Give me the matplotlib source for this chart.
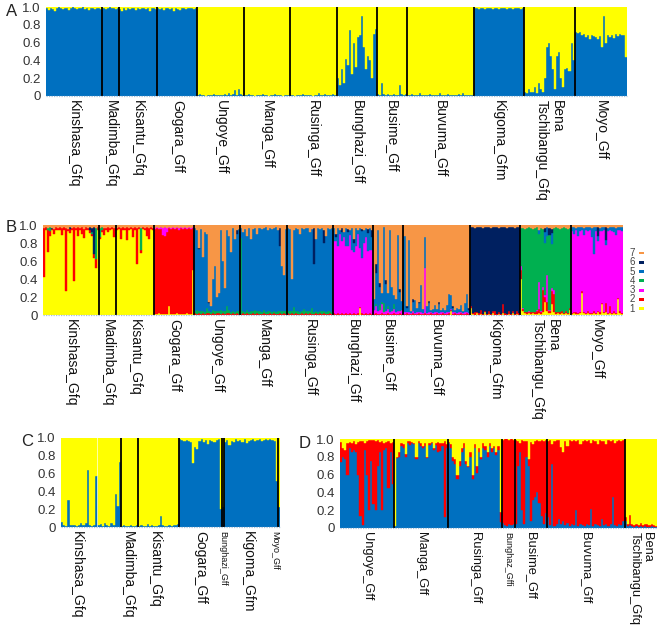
import numpy as np
import matplotlib
matplotlib.use("Agg")
import matplotlib.pyplot as plt
from matplotlib.patches import Rectangle
from matplotlib import transforms

plt.rcParams['font.family'] = ['Liberation Sans', 'DejaVu Sans']

# ----------- COLOURS ------------
BLUE = "#0070C0"
YELLOW = "#FFFF00"
RED = "#FF0000"
K7_COLORS = ["#FFFF00", "#FF0000", "#FF00FF", "#00B050", "#0070C0", "#002060", "#F79646"]

# ----------- DATA: panel A (K=2, blue share per individual) ------------
pops_AB = ["Kinshasa_Gfq", "Madimba_Gfq", "Kisantu_Gfq", "Gogara_Gff", "Ungoye_Gff",
           "Manga_Gff", "Rusinga_Gff", "Bunghazi_Gff", "Busime_Gff", "Buvuma_Gff",
           "Kigoma_Gfm", "Bena\nTschibangu_Gfq", "Moyo_Gff"]

A_kinshasa = [0.99, 0.97, 0.99, 0.98, 0.96, 0.99, 1.0, 0.99, 0.98, 0.99,
              0.99, 0.97, 0.99, 1.0, 0.99, 0.98, 0.99, 0.99, 1.0, 0.98,
              0.99, 0.97, 0.99, 0.99, 0.98, 0.99, 0.99, 0.98]
A_madimba = [0.99, 0.98, 0.99, 1.0, 0.99, 0.99, 0.98, 0.99]
A_kisantu = [0.98, 0.96, 0.99, 0.97, 0.99, 0.98, 0.99, 0.99, 0.97, 0.99,
             0.98, 0.99, 0.99, 0.98, 0.99, 0.95, 0.99, 0.99, 0.98]
A_gogara = [0.99, 0.98, 0.99, 0.97, 0.99, 0.99, 0.98, 0.99, 0.96, 0.99,
            0.98, 0.97, 0.99, 0.99, 0.98, 0.99, 0.99, 0.99, 0.98, 0.99]
A_ungoye = [0.01, 0.02, 0.01, 0.01, 0.0, 0.01, 0.01, 0.01, 0.02, 0.01,
            0.01, 0.01, 0.01, 0.02, 0.01, 0.03, 0.01, 0.02, 0.07, 0.01,
            0.08, 0.02, 0.01]
A_manga = [0.01, 0.01, 0.02, 0.01, 0.01, 0.0, 0.01, 0.01, 0.01, 0.02,
           0.01, 0.01, 0.0, 0.01, 0.01, 0.02, 0.01, 0.01, 0.01, 0.0,
           0.01, 0.01, 0.01]
A_rusinga = [0.01, 0.01, 0.0, 0.01, 0.01, 0.01, 0.02, 0.01, 0.01, 0.01,
             0.01, 0.0, 0.01, 0.01, 0.03, 0.01, 0.01, 0.02, 0.01, 0.01,
             0.01, 0.02, 0.01]
A_bunghazi = [0.2, 0.12, 0.3, 0.15, 0.42, 0.35, 0.74, 0.25, 0.6, 0.33,
              0.66, 0.69, 0.9, 0.55, 0.3, 0.45, 0.4, 0.2, 0.7, 0.75]
A_busime = [0.02, 0.01, 0.15, 0.02, 0.01, 0.02, 0.01, 0.01, 0.02, 0.01,
            0.01, 0.12, 0.02, 0.01, 0.02]
A_buvuma = [0.01, 0.01, 0.02, 0.01, 0.01, 0.01, 0.03, 0.01, 0.01, 0.01,
            0.01, 0.02, 0.01, 0.01, 0.01, 0.01, 0.03, 0.01, 0.01, 0.01,
            0.02, 0.01, 0.01, 0.01, 0.01, 0.02, 0.01, 0.03, 0.01, 0.01,
            0.01, 0.01, 0.01]
A_kigoma = [0.99, 0.99, 0.98, 0.99, 0.99, 0.98, 0.99, 0.99, 0.99, 0.98,
            0.99, 0.99, 0.98, 0.99, 0.99, 0.99, 0.98, 0.99, 0.99, 0.98,
            0.99, 0.99, 0.99, 0.98, 0.99]
A_bena = [0.05, 0.03, 0.08, 0.04, 0.05, 0.1, 0.03, 0.15, 0.08, 0.05,
          0.2, 0.55, 0.6, 0.45, 0.3, 0.08, 0.45, 0.5, 0.2, 0.1,
          0.3, 0.32, 0.28, 0.6, 0.4]
A_moyo = [0.72, 0.71, 0.72, 0.68, 0.7, 0.66, 0.69, 0.64, 0.68, 0.67,
          0.66, 0.64, 0.67, 0.55, 0.9, 0.6, 0.68, 0.66, 0.69, 0.65,
          0.7, 0.67, 0.7, 0.68, 0.69, 0.44]

A_blue = [A_kinshasa, A_madimba, A_kisantu, A_gogara, A_ungoye, A_manga, A_rusinga,
          A_bunghazi, A_busime, A_buvuma, A_kigoma, A_bena, A_moyo]

# ----------- DATA: panel B (K=7), main cluster + minor shares ------------
B_main = [1, 1, 1, 2, 5, 5, 5, 3, 7, 7, 6, 4, 3]

B_kinshasa = {
    2: [0.55, 0.03, 0.25, 0.05, 0.02, 0.06, 0.03, 0.02, 0.04, 0.08,
        0.03, 0.7, 0.03, 0.05, 0.02, 0.6, 0.03, 0.1, 0.02, 0.08,
        0.1, 0.03, 0.02, 0.04, 0.02, 0.05, 0.1, 0.03],
    4: [0, 0, 0.02, 0.05, 0, 0, 0, 0, 0, 0,
        0, 0, 0, 0, 0, 0, 0, 0, 0, 0,
        0, 0, 0, 0, 0.02, 0, 0.35, 0],
    6: [0, 0, 0, 0, 0.01, 0, 0, 0, 0, 0,
        0, 0, 0, 0.02, 0, 0, 0, 0, 0, 0,
        0, 0, 0, 0.03, 0.05, 0.3, 0, 0],
    7: [0.03, 0.02, 0.03, 0.02, 0.03, 0.04, 0.02, 0.03, 0.02, 0.03,
        0.02, 0.03, 0.04, 0.02, 0.03, 0.02, 0.03, 0.02, 0.03, 0.02,
        0.04, 0.02, 0.03, 0.02, 0.03, 0.02, 0.03, 0.02],
}
B_madimba = {
    2: [0.02, 0.03, 0.08, 0.02, 0.06, 0.03, 0.02, 0.1],
    4: [0.1, 0.03, 0, 0, 0, 0, 0, 0],
    7: [0.03, 0.02, 0.03, 0.03, 0.02, 0.03, 0.02, 0.03],
}
B_kisantu = {
    2: [0.03, 0.02, 0.12, 0.03, 0.02, 0.15, 0.03, 0.02, 0.1, 0.03,
        0.4, 0.02, 0.03, 0.02, 0.03, 0.1, 0.12, 0.02, 0.03],
    4: [0, 0, 0, 0, 0, 0, 0, 0, 0, 0,
        0, 0, 0.25, 0, 0, 0, 0, 0, 0],
    7: [0.03, 0.02, 0.03, 0.02, 0.03, 0.02, 0.03, 0.02, 0.03, 0.02,
        0.03, 0.02, 0.03, 0.02, 0.03, 0.02, 0.03, 0.02, 0.03],
}
B_gogara = {
    1: [0.01, 0.01, 0.02, 0.01, 0.01, 0.01, 0.01, 0.1, 0.01, 0.01,
        0.01, 0.02, 0.01, 0.01, 0.01, 0.01, 0.02, 0.01, 0.01, 0.5],
    3: [0.01, 0.01, 0.01, 0.02, 0.08, 0.1, 0.05, 0.01, 0.01, 0.01,
        0.01, 0.01, 0.02, 0.01, 0.01, 0.01, 0.01, 0.01, 0.01, 0.01],
    7: [0.03, 0.02, 0.03, 0.02, 0.03, 0.02, 0.03, 0.02, 0.03, 0.02,
        0.03, 0.02, 0.03, 0.02, 0.03, 0.02, 0.03, 0.02, 0.03, 0.02],
}
B_ungoye = {
    2: [0.02, 0.01, 0.02, 0.01, 0.02, 0.01, 0.02, 0.02, 0.01, 0.02,
        0.01, 0.02, 0.02, 0.01, 0.02, 0.01, 0.02, 0.02, 0.01, 0.02,
        0.01, 0.02, 0.01],
    4: [0.03, 0.05, 0.02, 0.04, 0.03, 0.02, 0.06, 0.03, 0.02, 0.04,
        0.03, 0.02, 0.03, 0.05, 0.02, 0.03, 0.08, 0.04, 0.02, 0.03,
        0.02, 0.03, 0.04],
    6: [0, 0, 0.02, 0, 0, 0, 0, 0.02, 0, 0,
        0, 0, 0, 0, 0, 0, 0, 0, 0, 0,
        0, 0.05, 0],
    7: [0.03, 0.05, 0.25, 0.04, 0.35, 0.08, 0.1, 0.85, 0.9, 0.6,
        0.45, 0.8, 0.75, 0.05, 0.4, 0.7, 0.05, 0.12, 0.3, 0.03,
        0.15, 0.05, 0.04],
}
B_manga = {
    2: [0.01, 0.02, 0.01, 0.02, 0.01, 0.01, 0.02, 0.01, 0.02, 0.01,
        0.01, 0.02, 0.01, 0.01, 0.02, 0.01, 0.02, 0.01, 0.01, 0.02,
        0.01, 0.02, 0.01],
    4: [0.85, 0.03, 0.02, 0.04, 0.02, 0.03, 0.02, 0.05, 0.02, 0.03,
        0.02, 0.04, 0.02, 0.03, 0.02, 0.02, 0.03, 0.02, 0.04, 0.02,
        0.03, 0.02, 0.03],
    6: [0, 0, 0, 0, 0, 0, 0, 0, 0, 0,
        0, 0, 0, 0, 0, 0, 0, 0, 0, 0.2,
        0, 0, 0],
    7: [0.03, 0.08, 0.04, 0.12, 0.03, 0.15, 0.04, 0.03, 0.1, 0.03,
        0.04, 0.03, 0.02, 0.05, 0.03, 0.04, 0.03, 0.02, 0.05, 0.03,
        0.45, 0.55, 0.04],
}
B_rusinga = {
    2: [0.02, 0.01, 0.02, 0.01, 0.02, 0.01, 0.01, 0.02, 0.01, 0.02,
        0.01, 0.02, 0.01, 0.01, 0.02, 0.01, 0.02, 0.01, 0.02, 0.01,
        0.01, 0.02, 0.01],
    4: [0.02, 0.03, 0.02, 0.08, 0.02, 0.03, 0.02, 0.02, 0.06, 0.02,
        0.03, 0.02, 0.07, 0.02, 0.03, 0.02, 0.02, 0.03, 0.02, 0.02,
        0.03, 0.02, 0.02],
    6: [0, 0, 0, 0, 0, 0, 0, 0, 0, 0,
        0, 0, 0, 0.4, 0, 0, 0, 0, 0.15, 0,
        0, 0, 0],
    7: [0.03, 0.04, 0.6, 0.05, 0.03, 0.04, 0.1, 0.03, 0.04, 0.03,
        0.03, 0.08, 0.04, 0.03, 0.15, 0.03, 0.04, 0.03, 0.05, 0.12,
        0.03, 0.04, 0.03],
}
B_bunghazi = {
    1: [0, 0, 0, 0, 0, 0, 0, 0, 0, 0,
        0, 0, 0, 0.08, 0, 0, 0, 0, 0, 0],
    2: [0.02, 0.01, 0.02, 0.01, 0.02, 0.01, 0.02, 0.01, 0.02, 0.01,
        0.02, 0.01, 0.02, 0.01, 0.02, 0.01, 0.02, 0.01, 0.02, 0.01],
    5: [0.15, 0.05, 0.2, 0.05, 0.1, 0.05, 0.2, 0.15, 0.05, 0.25,
        0.1, 0.2, 0.05, 0.22, 0.3, 0.15, 0.1, 0.2, 0.25, 0.15],
    6: [0, 0.03, 0, 0, 0.05, 0, 0, 0.04, 0, 0,
        0.05, 0, 0, 0, 0.03, 0, 0, 0.05, 0, 0.08],
    7: [0.03, 0.1, 0.03, 0.05, 0.03, 0.08, 0.03, 0.04, 0.06, 0.03,
        0.15, 0.03, 0.05, 0.03, 0.04, 0.05, 0.03, 0.04, 0.03, 0.05],
}
B_busime = {
    2: [0.01, 0.02, 0.01, 0.01, 0.02, 0.01, 0.01, 0.02, 0.01, 0.01,
        0.02, 0.01, 0.01, 0.02, 0.01],
    3: [0.05, 0.08, 0.03, 0.05, 0.1, 0.02, 0.03, 0.05, 0.02, 0.03,
        0.05, 0.02, 0.03, 0.02, 0.05],
    4: [0, 0.02, 0, 0.05, 0.02, 0.1, 0, 0.03, 0, 0.02,
        0.05, 0, 0, 0.02, 0],
    5: [0.12, 0.35, 0.9, 0.2, 0.1, 0.85, 0.3, 0.15, 0.92, 0.25,
        0.1, 0.15, 0.85, 0.2, 0.1],
    6: [0, 0.1, 0, 0.05, 0, 0, 0.05, 0, 0, 0,
        0, 0, 0, 0.03, 0],
}
B_buvuma = {
    1: [0, 0, 0, 0, 0, 0, 0, 0, 0, 0,
        0, 0, 0, 0, 0, 0, 0, 0, 0, 0,
        0, 0, 0, 0.05, 0, 0, 0, 0, 0, 0,
        0, 0, 0],
    2: [0.01, 0.02, 0.01, 0.01, 0.02, 0.01, 0.01, 0.02, 0.01, 0.01,
        0.02, 0.01, 0.01, 0.02, 0.01, 0.01, 0.02, 0.01, 0.01, 0.02,
        0.01, 0.01, 0.02, 0.01, 0.01, 0.02, 0.01, 0.01, 0.02, 0.01,
        0.01, 0.02, 0.01],
    3: [0.02, 0.01, 0.02, 0.01, 0.03, 0.01, 0.02, 0.01, 0.02, 0.01,
        0.5, 0.01, 0.02, 0.01, 0.01, 0.02, 0.01, 0.01, 0.02, 0.01,
        0.01, 0.02, 0.01, 0.01, 0.02, 0.01, 0.01, 0.02, 0.01, 0.01,
        0.02, 0.01, 0.01],
    5: [0.85, 0.05, 0.8, 0.03, 0.1, 0.15, 0.05, 0.1, 0.3, 0.05,
        0.35, 0.08, 0.1, 0.03, 0.05, 0.08, 0.04, 0.1, 0.03, 0.05,
        0.04, 0.08, 0.2, 0.15, 0.05, 0.03, 0.06, 0.04, 0.08, 0.03,
        0.1, 0.2, 0.04],
    6: [0, 0.02, 0, 0, 0.03, 0, 0, 0.02, 0, 0,
        0, 0, 0.03, 0, 0, 0, 0, 0.02, 0, 0,
        0, 0, 0, 0, 0.02, 0, 0, 0, 0, 0,
        0, 0, 0.02],
}
B_kigoma = {
    1: [0.08, 0.01, 0, 0.02, 0, 0.01, 0, 0.03, 0, 0.01,
        0, 0.02, 0, 0, 0.01, 0, 0.02, 0, 0, 0.01,
        0, 0.02, 0, 0.01, 0],
    2: [0.02, 0.01, 0.03, 0.01, 0.02, 0.05, 0.01, 0.02, 0.01, 0.03,
        0.01, 0.02, 0.04, 0.01, 0.02, 0.01, 0.1, 0.02, 0.01, 0.03,
        0.01, 0.02, 0.01, 0.03, 0.02],
    7: [0.02, 0.02, 0.03, 0.02, 0.02, 0.02, 0.03, 0.02, 0.02, 0.02,
        0.03, 0.02, 0.02, 0.02, 0.03, 0.02, 0.02, 0.02, 0.03, 0.02,
        0.02, 0.02, 0.03, 0.02, 0.02],
}
B_bena = {
    1: [0.4, 0.05, 0.02, 0.01, 0.02, 0.01, 0.02, 0.01, 0.01, 0.02,
        0.01, 0.03, 0.15, 0.05, 0.02, 0.12, 0.03, 0.01, 0.02, 0.01,
        0.02, 0.01, 0.02, 0.01, 0.06],
    2: [0.1, 0.02, 0.01, 0.02, 0.01, 0.02, 0.01, 0.02, 0.03, 0.05,
        0.02, 0.25, 0.05, 0.1, 0.02, 0.15, 0.2, 0.02, 0.01, 0.02,
        0.03, 0.01, 0.02, 0.01, 0.02],
    3: [0.05, 0.01, 0, 0, 0.01, 0, 0, 0, 0.02, 0.3,
        0.02, 0.03, 0.02, 0.3, 0.02, 0.03, 0.05, 0, 0, 0,
        0, 0, 0.01, 0, 0],
    5: [0, 0, 0, 0, 0, 0, 0, 0, 0, 0.05,
        0, 0, 0.12, 0.1, 0, 0.12, 0, 0, 0, 0,
        0, 0, 0, 0, 0],
    6: [0, 0, 0, 0, 0, 0, 0, 0, 0, 0,
        0, 0, 0.05, 0, 0.08, 0.05, 0, 0, 0, 0,
        0, 0, 0, 0, 0],
    7: [0.03, 0.03, 0.04, 0.03, 0.02, 0.03, 0.04, 0.03, 0.02, 0.05,
        0.03, 0.04, 0.03, 0.02, 0.03, 0.04, 0.03, 0.02, 0.03, 0.04,
        0.03, 0.02, 0.03, 0.04, 0.03],
}
B_moyo = {
    1: [0.01, 0.02, 0.01, 0.01, 0.02, 0.25, 0.02, 0.01, 0.02, 0.01,
        0.01, 0.02, 0.01, 0.03, 0.01, 0.12, 0.02, 0.03, 0.01, 0.02,
        0.01, 0.02, 0.01, 0.18, 0.02, 0.01],
    2: [0.01, 0.01, 0.02, 0.01, 0.01, 0.02, 0.01, 0.01, 0.02, 0.01,
        0.01, 0.02, 0.01, 0.01, 0.02, 0.01, 0.01, 0.1, 0.01, 0.08,
        0.01, 0.02, 0.01, 0.01, 0.02, 0.01],
    5: [0.05, 0.08, 0.03, 0.1, 0.05, 0.03, 0.08, 0.04, 0.05, 0.03,
        0.1, 0.3, 0.05, 0.06, 0.04, 0.05, 0.03, 0.05, 0.04, 0.03,
        0.05, 0.06, 0.08, 0.04, 0.03, 0.05],
    6: [0, 0, 0, 0, 0, 0, 0, 0, 0, 0,
        0, 0, 0, 0.1, 0, 0, 0, 0.15, 0, 0,
        0, 0, 0, 0, 0, 0],
    7: [0.02, 0.02, 0.03, 0.02, 0.02, 0.02, 0.03, 0.02, 0.02, 0.02,
        0.03, 0.02, 0.02, 0.02, 0.03, 0.02, 0.02, 0.02, 0.03, 0.02,
        0.02, 0.02, 0.03, 0.02, 0.02, 0.02],
}
B_minor = [B_kinshasa, B_madimba, B_kisantu, B_gogara, B_ungoye, B_manga, B_rusinga,
           B_bunghazi, B_busime, B_buvuma, B_kigoma, B_bena, B_moyo]

# ----------- DATA: panel C (K=2, blue share) ------------
pops_C = ["Kinshasa_Gfq", "Madimba_Gfq", "Kisantu_Gfq", "Gogara_Gff",
          "Bunghazi_Gff", "Kigoma_Gfm", "Moyo_Gff"]
C_kinshasa = [0.06, 0.02, 0.01, 0.3, 0.02, 0.02, 0.02, 0.01, 0.02, 0.04,
              0.02, 0.05, 0.64, 0.02, 0.01, 0.02, 0.57, 0.02, 0.03, 0.01,
              0.04, 0.02, 0.01, 0.04, 0.02, 0.37, 0.24, 0.73]
C_madimba = [0.01, 0.02, 0.01, 0.01, 0.02, 0.01, 0.01, 0.02]
C_kisantu = [0.01, 0.02, 0.01, 0.01, 0.03, 0.01, 0.02, 0.01, 0.01, 0.02,
             0.12, 0.02, 0.01, 0.01, 0.02, 0.01, 0.02, 0.02, 0.03]
C_gogara = [0.99, 0.98, 0.97, 0.98, 0.97, 0.96, 0.72, 0.9, 0.88, 0.97,
            0.99, 0.96, 0.98, 0.93, 0.98, 0.97, 0.95, 0.98, 0.99, 0.2]
C_bunghazi = [0.22]
C_kigoma = [0.96, 0.98, 0.92, 0.97, 0.95, 0.99, 0.97, 0.98, 0.96, 0.99,
            0.94, 0.97, 0.98, 0.99, 0.97, 0.98, 0.99, 0.97, 0.98, 0.99,
            0.98, 0.99, 0.98, 0.97, 0.52]
C_moyo = [0.22]
C_blue = [C_kinshasa, C_madimba, C_kisantu, C_gogara, C_bunghazi, C_kigoma, C_moyo]
C_label_shift = [-6.5, -1, -2, 0, 0, -1.5, -2]

# ----------- DATA: panel D (K=3: blue, red, yellow) ------------
pops_D = ["Ungoye_Gff", "Manga_Gff", "Rusinga_Gff", "Bunghaz_Gffi", "Busime_Gff",
          "Buvuma_Gff", "Bena\nTschibangu_Gfq"]
D_blue = [
    [0.74, 0.8, 0.78, 0.59, 0.9, 0.85, 0.88, 0.85, 0.6, 0.14,
     0.03, 0.88, 0.6, 0.2, 0.75, 0.27, 0.2, 0.7, 0.85, 0.2,
     0.88, 0.9, 0.45, 0.85, 0.5],
    [0.02, 0.79, 0.8, 0.92, 0.9, 0.8, 0.95, 0.93, 0.95, 0.94,
     0.78, 0.96, 0.92, 0.9, 0.92, 0.79, 0.93, 0.95, 0.88, 0.93,
     0.85, 0.87, 0.92, 0.12, 0.9],
    [0.95, 0.9, 0.75, 0.72, 0.55, 0.7, 0.85, 0.9, 0.72, 0.68,
     0.8, 0.55, 0.9, 0.62, 0.85, 0.78, 0.9, 0.88, 0.8, 0.92,
     0.85, 0.9, 0.82, 0.88, 0.07],
    [0.06, 0.03, 0.02, 0.04, 0.03, 0.05],
    [0.05, 0.7, 0.85, 0.2, 0.05, 0.8, 0.7, 0.08, 0.32, 0.35,
     0.4, 0.28, 0.14, 0.05, 0.17],
    [0.12, 0.03, 0.72, 0.02, 0.04, 0.1, 0.05, 0.08, 0.03, 0.06,
     0.02, 0.04, 0.03, 0.2, 0.02, 0.05, 0.03, 0.02, 0.04, 0.03,
     0.21, 0.02, 0.05, 0.03, 0.02, 0.1, 0.03, 0.05, 0.02, 0.04,
     0.35, 0.03, 0.02, 0.05, 0.03, 0.08],
    [0.08, 0.02, 0.03, 0.02, 0.01, 0.02, 0.01, 0.02, 0.01, 0.02,
     0.01, 0.01, 0.02, 0.01, 0.01],
]
D_yellow = [
    [0.03, 0.1, 0.12, 0.04, 0.03, 0.05, 0.02, 0.06, 0.03, 0.02,
     0.02, 0.04, 0.02, 0.01, 0.01, 0.01, 0.02, 0.01, 0.03, 0.02,
     0.04, 0.03, 0.02, 0.05, 0.03],
    [0.98, 0.2, 0.15, 0.05, 0.06, 0.17, 0.02, 0.02, 0.03, 0.04,
     0.2, 0.02, 0.05, 0.08, 0.05, 0.2, 0.04, 0.03, 0.1, 0.04,
     0.03, 0.05, 0.04, 0.02, 0.06],
    [0.03, 0.06, 0.2, 0.22, 0.4, 0.25, 0.1, 0.05, 0.25, 0.3,
     0.15, 0.4, 0.06, 0.3, 0.1, 0.2, 0.05, 0.08, 0.15, 0.05,
     0.1, 0.08, 0.15, 0.08, 0.82],
    [0.01, 0.0, 0.0, 0.01, 0.0, 0.01],
    [0.01, 0.02, 0.05, 0.01, 0.02, 0.02, 0.22, 0.03, 0.06, 0.02,
     0.01, 0.02, 0.01, 0.02, 0.01],
    [0.02, 0.01, 0.06, 0.02, 0.01, 0.01, 0.09, 0.15, 0.02, 0.08,
     0.01, 0.02, 0.01, 0.02, 0.01, 0.06, 0.02, 0.01, 0.02, 0.01,
     0.05, 0.01, 0.02, 0.06, 0.01, 0.02, 0.02, 0.06, 0.01, 0.02,
     0.01, 0.05, 0.02, 0.01, 0.02, 0.01],
    [0.88, 0.96, 0.85, 0.95, 0.97, 0.95, 0.97, 0.94, 0.97, 0.95,
     0.95, 0.97, 0.95, 0.97, 0.98],
]

# ----------- BUILD Q MATRICES ------------
def q_two(blue_lists):
    q = []
    for b in blue_lists:
        b = np.array(b, dtype=float)
        q.append(np.column_stack([b, 1 - b]))
    return q


def q_seven(minor_dicts, mains):
    q = []
    for comp, main in zip(minor_dicts, mains):
        n = len(next(iter(comp.values())))
        m = np.zeros((n, 7))
        for k, vals in comp.items():
            assert len(vals) == n, (main, k)
            m[:, k - 1] = vals
        m[:, main - 1] = 1 - m.sum(axis=1)
        q.append(m)
    return q


def q_three(blue_lists, yellow_lists):
    q = []
    for b, y in zip(blue_lists, yellow_lists):
        b = np.array(b, dtype=float)
        y = np.array(y, dtype=float)
        q.append(np.column_stack([b, 1 - b - y, y]))
    return q


# ----------- DRAW ------------
W, H = 660, 632
fig = plt.figure(figsize=(W / 100, H / 100), dpi=100)


def px_axes(left, top, right, bottom):
    return fig.add_axes([left / W, 1 - bottom / H, (right - left) / W, (bottom - top) / H])


def structure_panel(ax, q_pops, colors, names, label_shift=None, small=(), fs_main=10):
    q = np.vstack(q_pops)
    n = q.shape[0]
    x = np.arange(n)
    base = np.zeros(n)
    for k in range(q.shape[1]):
        h = q[:, k]
        ec = [colors[k] if v > 0.004 else "none" for v in h]
        ax.bar(x, h, bottom=base, width=1.0, align="edge", color=colors[k],
               edgecolor=ec, linewidth=0.3)
        base += h
    sizes = [len(p) for p in q_pops]
    edges = np.cumsum(sizes)
    for e in edges[:-1]:
        ax.axvline(e, color="black", lw=1.3, zorder=4)
    ax.set_xlim(0, n)
    ax.set_ylim(0, 1)
    ax.axhline(0, color="#a9c2da", lw=0.9, ls=(0, (1, 1)), zorder=5, clip_on=False)
    for s in ax.spines.values():
        s.set_visible(False)
    ax.set_xticks([])
    ax.set_yticks([0, 0.2, 0.4, 0.6, 0.8, 1.0])
    ax.set_yticklabels(["0", "0.2", "0.4", "0.6", "0.8", "1.0"], fontsize=9.5, color="#333333")
    ax.tick_params(axis="y", length=0, pad=4)
    trans = transforms.blended_transform_factory(ax.transData, ax.transAxes)
    trans = trans + transforms.ScaledTranslation(0, -3 / 72, fig.dpi_scale_trans)
    starts = edges - np.array(sizes)
    for i, name in enumerate(names):
        cx = (starts[i] + edges[i]) / 2
        if label_shift is not None:
            cx += label_shift[i]
        fs = 6.5 if i in small else fs_main
        ax.text(cx, 0, name, transform=trans, rotation=-90, ha="center", va="top",
                multialignment="left", fontsize=fs, color="#111111", linespacing=1.05)


axA = px_axes(46, 7, 627, 96)
structure_panel(axA, q_two(A_blue), [BLUE, YELLOW], pops_AB)

axB = px_axes(43, 225, 623, 315)
structure_panel(axB, q_seven(B_minor, B_main), K7_COLORS, pops_AB)

axC = px_axes(61, 438, 280, 527)
structure_panel(axC, q_two(C_blue), [BLUE, YELLOW], pops_C, label_shift=C_label_shift,
                small=(4, 6))

axD = px_axes(340, 439, 657, 528)
structure_panel(axD, q_three(D_blue, D_yellow), [BLUE, RED, YELLOW], pops_D, small=(3,),
                fs_main=9.3)

# panel letters
for letter, (lx, ly) in zip("ABCD", [(12, 12), (11, 228), (27, 442), (305, 444)]):
    fig.text(lx / W, 1 - ly / H, letter, fontsize=12, ha="center", va="center", color="#222222")

# legend for K=7
for i, k in enumerate(range(7, 0, -1)):
    yy = 253 + i * 9.3
    fig.text(632 / W, 1 - yy / H, str(k), fontsize=7, ha="center", va="center", color="#444444")
    fig.add_artist(Rectangle((639 / W, 1 - (yy + 1.3) / H), 4.5 / W, 2.8 / H,
                             transform=fig.transFigure, color=K7_COLORS[k - 1], lw=0))

fig.savefig("out.png", dpi=100)
